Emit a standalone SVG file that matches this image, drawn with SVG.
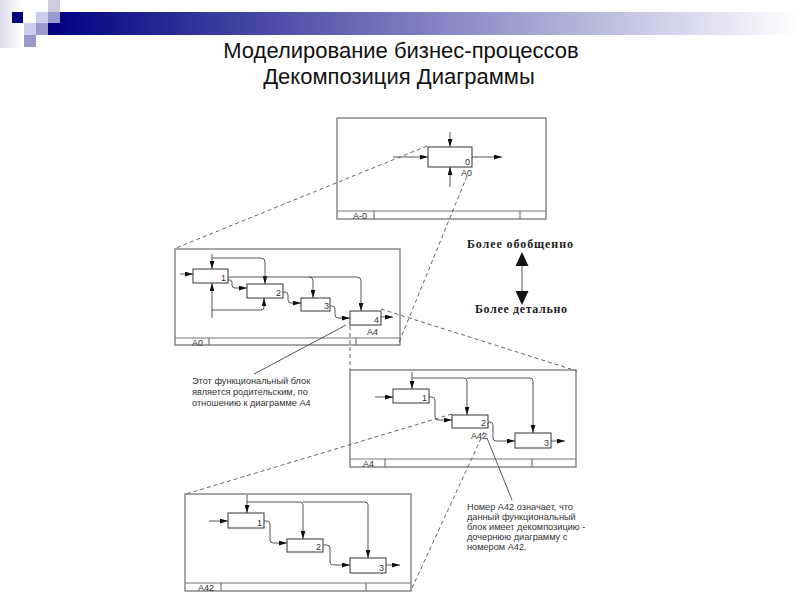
<svg xmlns="http://www.w3.org/2000/svg" width="800" height="600" viewBox="0 0 800 600">
<defs>
<linearGradient id="bar" x1="48" y1="0" x2="800" y2="0" gradientUnits="userSpaceOnUse">
<stop offset="0" stop-color="#000080"/><stop offset="1" stop-color="#ffffff"/>
</linearGradient>
<linearGradient id="strip" x1="0" y1="0" x2="1" y2="0">
<stop offset="0" stop-color="#dcdcee"/><stop offset="1" stop-color="#ffffff"/>
</linearGradient>
<marker id="ah" viewBox="0 0 10 6" refX="10" refY="3" markerWidth="8" markerHeight="5" orient="auto" markerUnits="userSpaceOnUse">
<path d="M0,0L10,3L0,6z" fill="#111"/>
</marker>
<style>
.frame{fill:#fff;stroke:#777;stroke-width:1.3}
.bar{fill:none;stroke:#777;stroke-width:1.2}
.box{fill:#fff;stroke:#333;stroke-width:1}
.con{fill:none;stroke:#444;stroke-width:0.9}
.arr{marker-end:url(#ah)}
.dash{fill:none;stroke:#555;stroke-width:0.9;stroke-dasharray:4 3}
.sol{fill:none;stroke:#444;stroke-width:0.9}
.lbl{font-family:"Liberation Sans",Arial,sans-serif;font-size:9px;fill:#333}
.ann{font-family:"Liberation Sans",Arial,sans-serif;font-size:9.2px;fill:#333}
.ser{font-family:"Liberation Serif","Times New Roman",serif;font-size:12px;font-weight:bold;fill:#222}
.title{font-family:"Liberation Sans",Arial,sans-serif;font-size:22px;fill:#111;text-anchor:middle}
</style>
</defs>
<rect width="800" height="600" fill="#fff"/>
<g id="decor">
<rect x="0" y="0" width="22" height="48" fill="url(#strip)"/>
<rect x="48" y="12" width="752" height="23" fill="url(#bar)"/>
<rect x="12" y="12" width="11" height="11" fill="#000080"/>
<rect x="48" y="0" width="12" height="12" fill="#ccccdd"/>
<rect x="36" y="12" width="12" height="11" fill="#ccccee"/>
<rect x="48" y="12" width="12" height="11" fill="#9999cc"/>
<rect x="24" y="23" width="12" height="12" fill="#ccccee"/>
<rect x="36" y="23" width="12" height="12" fill="#9999cc"/>
<rect x="24" y="35" width="12" height="12" fill="#9999cc"/>
</g>
<g id="title">
<text class="title" x="401" y="58">Моделирование бизнес-процессов</text>
<text class="title" x="399" y="84">Декомпозиция Диаграммы</text>
</g>

<g id="diagram-A-0">
<rect class="frame" x="337" y="118" width="209" height="101"/>
<path class="bar" d="M337,211H546M374,211V219M520,211V219"/>
<text class="lbl" x="353" y="219">A-0</text>
<g id="A-0-box0">
<rect class="box" x="428" y="147" width="44" height="20"/>
<text class="lbl" x="465" y="165">0</text>
<text class="lbl" x="461" y="176">A0</text>
</g>
</g>

<g id="diagram-A0">
<rect class="frame" x="175" y="249" width="225" height="96"/>
<path class="bar" d="M175,338H400M209,338V345M356,338V345"/>
<text class="lbl" x="192" y="346">A0</text>
<g id="A0-box1"><rect class="box" x="193" y="269" width="35" height="14"/><text class="lbl" x="221" y="281">1</text></g>
<g id="A0-box2"><rect class="box" x="247" y="284" width="36" height="14"/><text class="lbl" x="276" y="296">2</text></g>
<g id="A0-box3"><rect class="box" x="301" y="298" width="29" height="13"/><text class="lbl" x="324" y="309">3</text></g>
<g id="A0-box4"><rect class="box" x="350" y="311" width="31" height="14"/><text class="lbl" x="374" y="323">4</text><text class="lbl" x="367" y="335">A4</text></g>
</g>

<g id="diagram-A4">
<rect class="frame" x="350" y="370" width="226" height="97"/>
<path class="bar" d="M350,459H576M385,459V467M532,459V467"/>
<text class="lbl" x="363" y="467">A4</text>
<g id="A4-box1"><rect class="box" x="393" y="389" width="36" height="14"/><text class="lbl" x="422" y="401">1</text></g>
<g id="A4-box2"><rect class="box" x="452" y="415" width="36" height="13"/><text class="lbl" x="481" y="426">2</text><text class="lbl" x="471" y="439">A42</text></g>
<g id="A4-box3"><rect class="box" x="515" y="433" width="36" height="15"/><text class="lbl" x="544" y="446">3</text></g>
</g>

<g id="diagram-A42">
<rect class="frame" x="185" y="494" width="226" height="97"/>
<path class="bar" d="M185,583H411M221,583V591M366,583V591"/>
<text class="lbl" x="198" y="591">A42</text>
<g id="A42-box1"><rect class="box" x="228" y="513" width="36" height="15"/><text class="lbl" x="257" y="526">1</text></g>
<g id="A42-box2"><rect class="box" x="287" y="539" width="36" height="13"/><text class="lbl" x="316" y="550">2</text></g>
<g id="A42-box3"><rect class="box" x="350" y="558" width="36" height="15"/><text class="lbl" x="379" y="571">3</text></g>
</g>

<g id="connectors">
<path class="con arr" d="M450,132V147"/>
<path class="con arr" d="M393,157H428"/>
<path class="con arr" d="M472,157H502"/>
<path class="con arr" d="M450,187V167"/>
<path class="con arr" d="M180,274H193"/>
<path class="con arr" d="M212,254V269"/>
<path class="con arr" d="M212,258H261Q265,258 265,262V284"/>
<path class="con arr" d="M228,277H357Q361,277 361,281V311"/>
<path class="con arr" d="M309,277Q313,277 313,281V298"/>
<path class="con arr" d="M228,280H230Q232,280 232,283V285Q232,288 235,288H247"/>
<path class="con arr" d="M283,292H285Q288,292 288,295V300Q288,303 291,303H301"/>
<path class="con arr" d="M330,306H332Q335,306 335,309V315Q335,318 338,318H350"/>
<path class="con arr" d="M381,317H393"/>
<path class="con arr" d="M212,318V283"/>
<path class="con arr" d="M212,310H261Q264,310 264,307V298"/>
<path class="con arr" d="M375,397H393"/>
<path class="con arr" d="M412,372V389"/>
<path class="con arr" d="M412,378H464Q467,378 467,381V415"/>
<path class="con arr" d="M467,378H530Q533,378 533,381V433"/>
<path class="con arr" d="M429,397H432Q435,397 435,400V417Q435,420 438,420H452"/>
<path class="con arr" d="M488,422H490Q493,422 493,425V438Q493,441 496,441H515"/>
<path class="con arr" d="M551,441H565"/>
<path class="con arr" d="M209,521H228"/>
<path class="con arr" d="M247,495V513"/>
<path class="con arr" d="M247,502H300Q303,502 303,505V539"/>
<path class="con arr" d="M303,502H365Q368,502 368,505V558"/>
<path class="con arr" d="M264,521H267Q270,521 270,524V540Q270,543 273,543H287"/>
<path class="con arr" d="M323,545H327Q330,545 330,548V562Q330,565 333,565H350"/>
<path class="con arr" d="M386,565H400"/>
<path class="dash" d="M427,146L176,248"/>
<path class="dash" d="M467,176L398,345"/>
<path class="dash" d="M381,309L577,371"/>
<path class="dash" d="M350,326V370"/>
<path class="dash" d="M452,414L186,494"/>
<path class="dash" d="M484,432L412,588"/>
<path class="sol" d="M346,325L254,374"/>
<path class="sol" d="M487,438L512,500"/>
<path class="con" d="M522,264V293" stroke-width="1.2"/>
<path d="M522,252L515.5,266H528.5z" fill="#111"/>
<path d="M522,305L515.5,291H528.5z" fill="#111"/>
</g>

<g id="legend">
<text class="ser" x="467" y="248" textLength="106" lengthAdjust="spacing">Более обобщенно</text>
<text class="ser" x="475" y="313" textLength="92" lengthAdjust="spacing">Более детально</text>
</g>
<g id="note-parent">
<text class="ann" x="192" y="384">Этот функциональный блок</text>
<text class="ann" x="192" y="395">является родительским, по</text>
<text class="ann" x="192" y="406">отношению к диаграмме А4</text>
</g>
<g id="note-child">
<text class="ann" x="467" y="510">Номер А42 означает, что</text>
<text class="ann" x="467" y="520">данный функциональный</text>
<text class="ann" x="467" y="530">блок имеет декомпозицию -</text>
<text class="ann" x="467" y="540">дочернюю диаграмму с</text>
<text class="ann" x="467" y="550">номером А42.</text>
</g>
</svg>
